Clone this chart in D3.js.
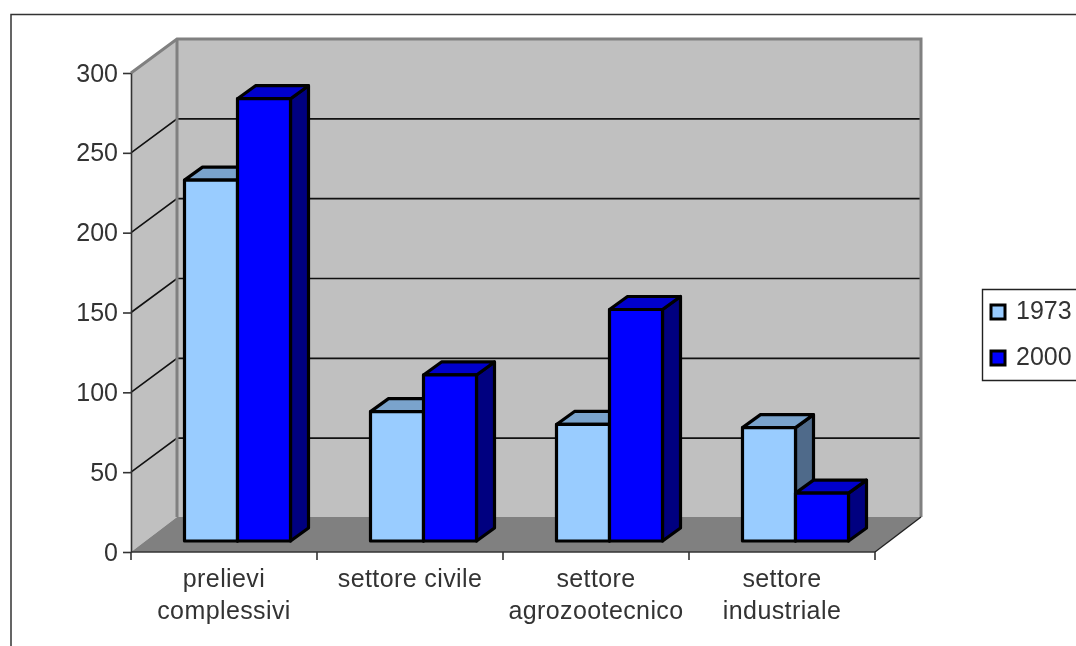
<!DOCTYPE html>
<html>
<head>
<meta charset="utf-8">
<script src="https://cdn.jsdelivr.net/npm/d3@7"></script>
<style>
  html, body { margin: 0; padding: 0; background: #fff; overflow: hidden; }
  svg { display: block; filter: blur(0.35px); }
  text { font-family: "Liberation Sans", Arial, sans-serif; font-size: 25px; fill: #333; }
</style>
</head>
<body>
<div id="chart"></div>
<script>
// values
const categories = ['prelievi complessivi', 'settore civile', 'settore agrozootecnico', 'settore industriale'];
const years = ['1973', '2000'];
const values1973 = [226, 81, 73, 71];
const values2000 = [277, 104, 145, 30];
const yTicks = [0, 50, 100, 150, 200, 250, 300];
const wrapped = { 'settore civile': ['settore civile'] };

const seriesValues = { '1973': values1973, '2000': values2000 };
const faceColors = { '1973': '#99ccff', '2000': '#0000ff' };
const topColors = { '1973': '#7aa3cc', '2000': '#0000cc' };
const sideColors = { '1973': '#4f6a8a', '2000': '#000080' };

const width = 1076, height = 646;
const plotLeft = 131, plotRight = 875, plotBottom = 552, plotTop = 73;
// the 3d offset of the back wall, and of the bars inside the box
const wallDx = 46, wallDy = -34;
const floorDy = -35;
const barDx = 13.5, barDy = -11;
const depthDx = 18, depthDy = -13;

const svg = d3.select('#chart').append('svg')
    .attr('width', width)
    .attr('height', height);

const x = d3.scaleBand().domain(categories).range([plotLeft, plotRight]);
const y = d3.scaleLinear().domain([0, 300]).range([plotBottom, plotTop]);
const inner = d3.scaleBand().domain(years).range([40, 146]);

const poly = pts => pts.map(p => p.join(',')).join(' ');

// outer frame, only top and left are inside the picture
svg.append('path')
    .attr('d', d3.line()([[11, height], [11, 14.5], [width, 14.5]]))
    .attr('fill', 'none')
    .attr('stroke', '#333')
    .attr('stroke-width', 1.5);

// walls and floor
svg.append('polygon')
    .attr('points', poly([[plotLeft, plotTop], [plotLeft + wallDx, plotTop + wallDy], [plotLeft + wallDx, plotBottom + floorDy], [plotLeft, plotBottom]]))
    .attr('fill', '#c0c0c0');
svg.append('rect')
    .attr('x', plotLeft + wallDx)
    .attr('y', plotTop + wallDy)
    .attr('width', plotRight - plotLeft)
    .attr('height', plotBottom - plotTop)
    .attr('fill', '#c0c0c0');
svg.append('polygon')
    .attr('points', poly([[plotLeft, plotBottom], [plotRight, plotBottom], [plotRight + wallDx, plotBottom + floorDy], [plotLeft + wallDx, plotBottom + floorDy]]))
    .attr('fill', '#808080');

// gridlines on both walls
yTicks.filter(d => d > 0 && d < 300).forEach(d => {
    svg.append('path')
        .attr('d', d3.line()([[plotLeft, y(d)], [plotLeft + wallDx, y(d) + wallDy], [plotRight + wallDx, y(d) + wallDy]]))
        .attr('fill', 'none')
        .attr('stroke', '#111')
        .attr('stroke-width', 1.6);
});

// wall edges
svg.append('path')
    .attr('d', d3.line()([[plotLeft, plotTop], [plotLeft + wallDx, plotTop + wallDy], [plotRight + wallDx, plotTop + wallDy], [plotRight + wallDx, plotBottom + floorDy]]))
    .attr('fill', 'none')
    .attr('stroke', '#808080')
    .attr('stroke-width', 3);
svg.append('line')
    .attr('x1', plotLeft + wallDx).attr('x2', plotLeft + wallDx)
    .attr('y1', plotTop + wallDy).attr('y2', plotBottom + floorDy)
    .attr('stroke', '#808080')
    .attr('stroke-width', 3);
svg.append('line')
    .attr('x1', plotRight).attr('x2', plotRight + wallDx)
    .attr('y1', plotBottom).attr('y2', plotBottom + floorDy)
    .attr('stroke', '#222')
    .attr('stroke-width', 1.4);

// bars
categories.forEach((cat, i) => {
    years.forEach(year => {
        const x0 = x(cat) + barDx + inner(year);
        const x1 = x0 + inner.bandwidth();
        const yTop = y(seriesValues[year][i]) + barDy;
        const yBase = y(0) + barDy;
        const g = svg.append('g')
            .attr('stroke', '#000')
            .attr('stroke-width', 3.2)
            .attr('stroke-linejoin', 'round');
        g.append('polygon')
            .attr('points', poly([[x1, yTop], [x1 + depthDx, yTop + depthDy], [x1 + depthDx, yBase + depthDy], [x1, yBase]]))
            .attr('fill', sideColors[year]);
        g.append('polygon')
            .attr('points', poly([[x0, yTop], [x0 + depthDx, yTop + depthDy], [x1 + depthDx, yTop + depthDy], [x1, yTop]]))
            .attr('fill', topColors[year]);
        g.append('rect')
            .attr('x', x0)
            .attr('y', yTop)
            .attr('width', x1 - x0)
            .attr('height', yBase - yTop)
            .attr('fill', faceColors[year]);
    });
});

// y axis
const yAxis = svg.append('g')
    .attr('transform', 'translate(' + plotLeft + ',0)')
    .call(d3.axisLeft(y).tickValues(yTicks).tickSize(8).tickPadding(5).tickSizeOuter(0));
yAxis.selectAll('path, line').attr('stroke', '#333').attr('stroke-width', 1.6);
yAxis.selectAll('text').style('font-size', '25px').attr('font-family', null);

// x axis, ticks sit on the band edges so the labels get their own pass
const edges = categories.map(c => x(c)).concat([plotRight]);
svg.append('line')
    .attr('x1', plotLeft).attr('x2', plotRight)
    .attr('y1', plotBottom).attr('y2', plotBottom)
    .attr('stroke', '#333')
    .attr('stroke-width', 1.6);
svg.selectAll('.edge').data(edges).enter().append('line')
    .attr('class', 'edge')
    .attr('x1', d => d).attr('x2', d => d)
    .attr('y1', plotBottom).attr('y2', plotBottom + 8)
    .attr('stroke', '#333')
    .attr('stroke-width', 1.6);

const xAxis = svg.append('g')
    .attr('transform', 'translate(0,' + plotBottom + ')')
    .call(d3.axisBottom(x).tickSize(0).tickPadding(0));
xAxis.select('.domain').remove();
xAxis.selectAll('text')
    .attr('y', null).attr('dy', null)
    .text(null)
    .each(function (d) {
        const lines = wrapped[d] || d.split(' ');
        d3.select(this).selectAll('tspan').data(lines).enter().append('tspan')
            .attr('x', 0)
            .attr('y', (l, j) => 35 + j * 32)
            .text(l => l);
    })
    .style('font-size', '25px')
    .style('letter-spacing', '0.4px');

// legend runs off the right side of the picture
svg.append('path')
    .attr('d', d3.line()([[width + 5, 289.5], [982.5, 289.5], [982.5, 380.5], [width + 5, 380.5]]))
    .attr('fill', '#fff')
    .attr('stroke', '#222')
    .attr('stroke-width', 1.4);
years.forEach((year, i) => {
    svg.append('rect')
        .attr('x', 991)
        .attr('y', 305 + i * 46)
        .attr('width', 14)
        .attr('height', 14)
        .attr('fill', faceColors[year])
        .attr('stroke', '#000')
        .attr('stroke-width', 3);
    svg.append('text')
        .attr('x', 1016)
        .attr('y', 319 + i * 46)
        .text(year);
});
</script>
</body>
</html>
